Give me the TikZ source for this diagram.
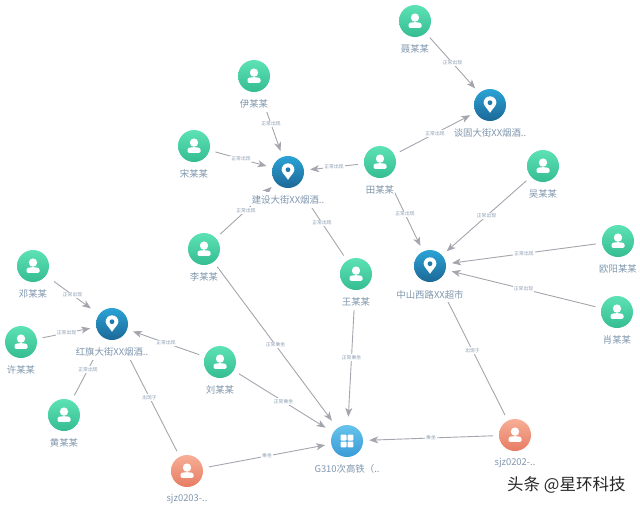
\documentclass[tikz,border=0pt]{standalone}
\usepackage{fontspec}
\setmainfont{Noto Sans CJK SC}
\usetikzlibrary{positioning, arrows.meta, backgrounds}
\definecolor{edgegray}{HTML}{A4A5AD}
\definecolor{nametext}{HTML}{7F96AD}
\definecolor{edgetext}{HTML}{8C9DB2}
\definecolor{pinhole}{HTML}{1F7DAC}
\definecolor{greenlow}{HTML}{35BC92}
\definecolor{greenhigh}{HTML}{5CE2B4}
\definecolor{orangelow}{HTML}{E67C63}
\definecolor{orangehigh}{HTML}{F6AF96}
\definecolor{pinlow}{HTML}{1C6896}
\definecolor{pinhigh}{HTML}{2BA3D6}
\definecolor{trainlow}{HTML}{3A9BD7}
\definecolor{trainhigh}{HTML}{66C3EC}
\newcommand{\personicon}{%
  \begin{scope}[shift={(path picture bounding box.center)},x=1pt,y=1pt]
    \fill[white] (0,3.4) circle (4.2);
    \fill[white] (-6.5,-5.7) -- (-6.5,-3.8) .. controls (-6.5,-1.6) and (-3.2,-1.2) .. (0,-1.2)
      .. controls (3.2,-1.2) and (6.5,-1.6) .. (6.5,-3.8) -- (6.5,-5.7)
      .. controls (6.5,-6.7) and (5.8,-6.9) .. (5,-6.9) -- (-5,-6.9)
      .. controls (-5.8,-6.9) and (-6.5,-6.7) .. (-6.5,-5.7) -- cycle;
  \end{scope}}
\newcommand{\pinicon}{%
  \begin{scope}[shift={(path picture bounding box.center)},x=1pt,y=1pt]
    \fill[white] (0,-7.8) .. controls (-2,-4.4) and (-6.4,-0.6) .. (-6.4,2.3)
      arc (180:0:6.4) .. controls (6.4,-0.6) and (2,-4.4) .. (0,-7.8) -- cycle;
    \fill[pinhole] (0,2.3) circle (2.4);
  \end{scope}}
\newcommand{\gridicon}{%
  \begin{scope}[shift={(path picture bounding box.center)},x=1pt,y=1pt]
    \foreach \a in {-1,1} {
      \foreach \b in {-1,1} {
        \fill[white, rounded corners=0.8pt] (\a*3.4-2.9,\b*3.4-2.9) rectangle (\a*3.4+2.9,\b*3.4+2.9);
      }
    }
  \end{scope}}
\begin{document}
\begin{tikzpicture}[
  x=1pt, y=-1pt,
  label distance=4pt,
  mynode/.style={circle, minimum size=32pt, inner sep=0pt, shading angle=-45},
  personnode/.style={mynode, bottom color=greenlow, top color=greenhigh, path picture={\personicon}},
  devicenode/.style={mynode, bottom color=orangelow, top color=orangehigh, path picture={\personicon}},
  pinnode/.style={mynode, bottom color=pinlow, top color=pinhigh, path picture={\pinicon}},
  trainnode/.style={mynode, bottom color=trainlow, top color=trainhigh, path picture={\gridicon}},
  namelabel/.style={fill=white, inner sep=1pt, minimum height=16pt, text=nametext, font=\fontsize{9.4}{11}\selectfont},
  edgelabel/.style={fill=white, inner sep=1pt, text=edgetext, font=\fontsize{4.8}{6}\selectfont},
  myedge/.style={draw=edgegray, line width=0.9pt, shorten <=6pt, shorten >=6pt, -{Stealth[length=9pt, width=7pt, inset=2.5pt]}},
  plainedge/.style={draw=edgegray, line width=0.9pt, shorten <=6pt, shorten >=13pt},
]
\useasboundingbox (0,0) rectangle (640,507);
\node[personnode, label={[namelabel]below:聂某某}] (nie) at (415,21) {};
\node[pinnode, label={[namelabel]below:谈固大街XX烟酒..}] (tangu) at (490,105) {};
\node[personnode, label={[namelabel]below:伊某某}] (yi) at (254,76) {};
\node[personnode, label={[namelabel]below:宋某某}] (song) at (194,146) {};
\node[pinnode, label={[namelabel]below:建设大街XX烟酒..}] (jianshe) at (288,172) {};
\node[personnode, label={[namelabel]below:田某某}] (tian) at (380,162) {};
\node[personnode, label={[namelabel]below:吴某某}] (wu) at (543,166) {};
\node[personnode, label={[namelabel]below:李某某}] (li) at (204,249) {};
\node[personnode, label={[namelabel]below:王某某}] (wang) at (356,274) {};
\node[pinnode, label={[namelabel]below:中山西路XX超市}] (zhongshan) at (430,266) {};
\node[personnode, label={[namelabel]below:欧阳某某}] (ouyang) at (618,241) {};
\node[personnode, label={[namelabel]below:肖某某}] (xiao) at (617,312) {};
\node[personnode, label={[namelabel]below:邓某某}] (deng) at (33,266) {};
\node[personnode, label={[namelabel]below:许某某}] (xu) at (21,342) {};
\node[pinnode, label={[namelabel]below:红旗大街XX烟酒..}] (hongqi) at (112,324) {};
\node[personnode, label={[namelabel]below:黄某某}] (huang) at (64,415) {};
\node[personnode, label={[namelabel]below:刘某某}] (liu) at (220,362) {};
\node[devicenode, label={[namelabel]below:sjz0203-..}] (sjza) at (187,471) {};
\node[trainnode, label={[namelabel]below:G310次高铁（..}] (train) at (347,441) {};
\node[devicenode, label={[namelabel]below:sjz0202-..}] (sjzb) at (515,435) {};
\node[anchor=west, text=black!85, font=\fontsize{16.5}{18}\selectfont] (mark) at (503.7,485) {头条 @星环科技};
\begin{scope}[on background layer]
\draw[myedge] (nie) -- node[edgelabel] {正常出现} (tangu);
\draw[myedge] (tian) -- node[edgelabel] {正常出现} (tangu);
\draw[myedge] (yi) -- node[edgelabel] {正常出现} (jianshe);
\draw[myedge] (song) -- node[edgelabel] {正常出现} (jianshe);
\draw[myedge] (tian) -- node[edgelabel] {正常出现} (jianshe);
\draw[myedge] (li) -- node[edgelabel] {正常出现} (jianshe);
\draw[plainedge] (wang) -- node[edgelabel] {正常出现} (jianshe);
\draw[myedge] (tian) -- node[edgelabel] {正常出现} (zhongshan);
\draw[myedge] (wu) -- node[edgelabel] {正常出现} (zhongshan);
\draw[myedge] (ouyang) -- node[edgelabel] {正常出现} (zhongshan);
\draw[myedge] (xiao) -- node[edgelabel] {正常出现} (zhongshan);
\draw[plainedge] (sjzb) -- node[edgelabel] {出现于} (zhongshan);
\draw[myedge, shorten <=10pt, shorten >=10pt] (deng) -- node[edgelabel] {正常出现} (hongqi);
\draw[myedge] (xu) -- node[edgelabel] {正常出现} (hongqi);
\draw[plainedge] (huang) -- node[edgelabel] {正常出现} (hongqi);
\draw[myedge] (liu) -- node[edgelabel] {正常出现} (hongqi);
\draw[plainedge] (sjza) -- node[edgelabel] {出现于} (hongqi);
\draw[myedge, shorten >=9pt] (li) -- node[edgelabel] {正常乘坐} (train);
\draw[myedge, shorten >=8pt] (wang) -- node[edgelabel] {正常乘坐} (train);
\draw[myedge, shorten >=9pt] (liu) -- node[edgelabel] {正常乘坐} (train);
\draw[myedge] (sjza) -- node[edgelabel] {乘坐} (train);
\draw[myedge] (sjzb) -- node[edgelabel] {乘坐} (train);
\end{scope}
\end{tikzpicture}
\end{document}
